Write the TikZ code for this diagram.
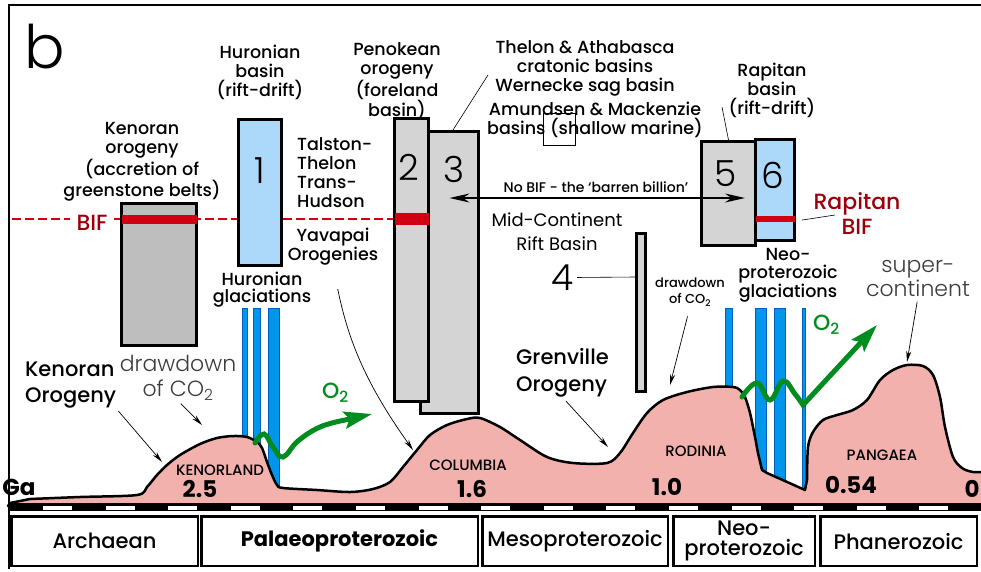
\documentclass[tikz,border=0pt]{standalone}
\usepackage{fontspec}
\setmainfont{Poppins}
\newfontfamily\lightfont{Poppins Light}
\newfontfamily\medfont{Poppins Medium}
\usetikzlibrary{positioning,arrows.meta}

\definecolor{landpink}{RGB}{242,177,172}
\definecolor{basinblue}{RGB}{172,216,250}
\definecolor{iceblue}{RGB}{0,150,235}
\definecolor{icedark}{RGB}{0,95,190}
\definecolor{kgrey}{RGB}{190,190,190}
\definecolor{colgrey}{RGB}{212,212,212}
\definecolor{bandred}{RGB}{208,0,18}
\definecolor{bifdark}{RGB}{155,0,12}
\definecolor{o2green}{RGB}{0,140,30}
\definecolor{softgrey}{RGB}{60,60,60}

\begin{document}
\begin{tikzpicture}
  [x=1pt, y=-1pt,
   lbl/.style={align=center, inner sep=0pt, font=\medfont\fontsize{17.5}{19}\selectfont},
   bigl/.style={align=left, inner sep=0pt, font=\medfont\fontsize{21}{26}\selectfont},
   thinlbl/.style={align=center, inner sep=0pt, text=softgrey, font=\lightfont\fontsize{22}{24}\selectfont},
   small/.style={align=center, inner sep=0pt, font=\medfont\fontsize{13}{16}\selectfont},
   num/.style={inner sep=0pt, font=\lightfont\fontsize{36}{36}\selectfont},
   colbox/.style={draw, line width=3pt, inner sep=0pt},
   biftext/.style={inner sep=0pt, text=bifdark, font=\medfont\fontsize{22}{25}\selectfont},
   cont/.style={inner sep=0pt, font=\medfont\fontsize{15}{15}\selectfont},
   age/.style={inner sep=0pt, font=\bfseries\fontsize{23}{23}\selectfont},
   era/.style={draw, line width=2.5pt, inner sep=0pt, align=center, minimum height=49.5pt,
     font=\medfont\fontsize{21}{20}\selectfont},
   bifline/.style={draw=bandred, line width=2pt, dash pattern=on 9pt off 4pt},
   icebar/.style={fill=iceblue, draw=icedark, line width=0.6pt},
   land/.style={fill=landpink, draw=black, line width=2.5pt, line join=round},
   o2arrow/.style={draw=o2green, line width=5pt, line cap=round,
     -{Stealth[length=28pt,width=17pt,inset=5pt]}},
   o2lbl/.style={inner sep=0pt, text=o2green, font=\medfont\fontsize{22}{22}\selectfont},
   leader/.style={line width=0.6pt},
   ptr/.style={line width=0.7pt, -{Stealth[length=11pt,width=5pt]}},
   barren/.style={line width=2pt, {Stealth[length=20pt,width=9pt]}-{Stealth[length=20pt,width=9pt]}}]

  \fill[white] (0,0) rectangle (981,571);
  \useasboundingbox (0,0) rectangle (981,571);
  \draw[line width=2.5pt] (9,569) -- (9,5) -- (981,5);
  \node[anchor=base, inner sep=0pt, font=\lightfont\fontsize{60}{60}\selectfont] (panel) at (45,68) {b};

  % BIF level
  \coordinate (bifstart) at (12,219);
  \coordinate (bifend) at (395,219);
  \node[biftext, anchor=base, inner xsep=6pt] (biflbl) at (92,230) {BIF};
  \draw[bifline] (bifstart) -- (biflbl.west |- bifstart);
  \draw[bifline] (biflbl.east |- bifstart) -- (bifend);

  % basins
  \node[colbox, fill=kgrey, minimum width=75pt, minimum height=142pt] (kbox) at (159,274.5) {};
  \fill[bandred] ([xshift=1.5pt]kbox.west |- 0,215) rectangle ([xshift=-1.5pt]kbox.east |- 0,224);
  \node[colbox, fill=basinblue, minimum width=43pt, minimum height=146pt] (col1) at (260,192.5) {};
  \node[colbox, fill=colgrey, minimum width=58pt, minimum height=282pt] (col3) at (449.5,272.5) {};
  \node[colbox, fill=colgrey, minimum width=34pt, minimum height=283pt] (col2) at (411.5,260) {};
  \fill[bandred] ([xshift=1.5pt]col2.west |- 0,213) rectangle ([xshift=-1.5pt]col2.east |- 0,225);
  \node[colbox, fill=colgrey, minimum width=9pt, minimum height=158pt] (col4) at (641,312.5) {};
  \node[colbox, fill=colgrey, minimum width=54pt, minimum height=104pt] (col5) at (728.5,193.5) {};
  \node[colbox, fill=basinblue, minimum width=39pt, minimum height=101pt] (col6) at (775,190) {};
  \fill[bandred] ([xshift=1.5pt]col6.west |- 0,216) rectangle ([xshift=-1.5pt]col6.east |- 0,222);

  \node[num, below=39pt of col1.north] (n1) {1};
  \node[num, below=37pt of col2.north, xshift=-3pt] (n2) {2};
  \node[num, below=26pt of col3.north, xshift=5pt] (n3) {3};
  \node[num, below=20pt of col5.north, xshift=-3pt] (n5) {5};
  \node[num, below=24pt of col6.north, xshift=-2pt] (n6) {6};
  \node[num] (four) at (563,277.5) {4};

  % glaciations
  \foreach \xa/\xb in {242/247,253/260,268/279,725/732,755/766,774/785,802/805}
    \draw[icebar] (\xa,308) rectangle (\xb,500);

  % continents through time
  \draw[land] (8,506) -- (10,503) -- plot[smooth, tension=0.5] coordinates {(30,499) (80,497)
    (137,495) (147,487) (157,475) (167,465) (180,455) (200,444) (217,438) (233,436) (247,437)
    (257,442) (262,448) (267,462) (272,475) (277,485) (283,488) (317,490) (350,492) (373,489)
    (390,482) (403,467) (417,450) (430,435) (447,425) (467,419) (480,418) (500,427) (520,440)
    (547,457) (573,463) (607,463) (620,453) (633,433) (647,413) (663,400) (687,392) (713,387)
    (733,387) (740,390) (745,397) (750,413) (755,437) (758,453) (762,470)}
    -- (767,473) -- (805,490) -- plot[smooth, tension=0.5] coordinates {(807,480) (808,447)
    (813,432) (823,420) (837,415) (853,410) (867,400) (880,380) (893,370) (907,365) (923,366)
    (933,375) (940,397) (945,427) (953,457) (962,468) (973,472) (986,472)}
    -- (986,506) -- cycle;

  % time bar
  \fill (10,503) rectangle (981,511);
  \foreach \i in {0,...,14}
    \fill[white] ({43+62.6*\i},506) rectangle ++(29,3.5);

  \node[era, minimum width=186.5pt] (archaean) at (104.5,541) {Archaean};
  \node[era, minimum width=276.5pt, right=1pt of archaean, font=\bfseries\fontsize{21}{20}\selectfont] (palaeo) {Palaeoproterozoic};
  \node[era, minimum width=185.5pt, right=2pt of palaeo] (meso) {Mesoproterozoic};
  \node[era, minimum width=141.5pt, right=3pt of meso] (neo) {Neo-\\proterozoic};
  \node[era, minimum width=156.5pt, right=3pt of neo] (phan) {Phanerozoic};

  % labels
  \node[lbl, anchor=north] (kenlbl) at (142,122) {Kenoran\\orogeny\\(accretion of\\greenstone belts)};
  \node[lbl, anchor=north] (hurbasin) at (260,45) {Huronian\\basin\\(rift-drift)};
  \node[lbl, anchor=north] (penokean) at (397,42) {Penokean\\orogeny\\(foreland\\basin)};
  \node[lbl, anchor=north] (thelon) at (585,40) {Thelon \& Athabasca\\cratonic basins\\Wernecke sag basin};
  \node[lbl, anchor=north] (amund) at (595,102) {Amundsen \& Mackenzie\\basins (shallow marine)};
  \draw[leader] (543,113) rectangle (575,145);
  \node[lbl, anchor=north] (rapbasin) at (772,63) {Rapitan\\basin\\(rift-drift)};
  \node[lbl, align=left, anchor=north west] (talston) at (297,137) {Talston-\\Thelon\\Trans-\\Hudson};
  \node[lbl, anchor=north] (yav) at (333,228) {Yavapai\\Orogenies};
  \node[lbl, anchor=north, font=\medfont\fontsize{17.5}{17}\selectfont] (hurglac) at (262,272) {Huronian\\glaciations};
  \node[lbl, anchor=north, font=\fontsize{18}{24}\selectfont] (midcont) at (557,213) {Mid-Continent\\Rift Basin};
  \node[lbl, anchor=north, font=\medfont\fontsize{17.5}{18}\selectfont] (neoglac) at (788,248) {Neo-\\proterozoic\\glaciations};
  \node[anchor=north, inner sep=0pt, font=\medfont\fontsize{14}{14}\selectfont] (nobif) at (596,182) {No BIF - the ‘barren billion’};
  \node[biftext, align=center, anchor=north] (rapbif) at (857,192) {Rapitan\\BIF};
  \node[bigl, anchor=north west] (kenoro) at (25,362) {Kenoran\\Orogeny};
  \node[bigl, anchor=north west, font=\medfont\fontsize{21}{27}\selectfont] (grenville) at (516,348) {Grenville\\Orogeny};
  \node[thinlbl, anchor=north, font=\lightfont\fontsize{22}{25}\selectfont] (ddleft) at (178,355) {drawdown\\of CO\textsubscript{2}};
  \node[thinlbl, anchor=north] (superc) at (918,260) {super-\\continent};
  \node[small, anchor=north] (ddright) at (690,278) {drawdown\\of CO\textsubscript{2}};

  \node[cont, anchor=base] (kenorland) at (220,475) {KENORLAND};
  \node[cont, anchor=base] (columbia) at (468,470) {COLUMBIA};
  \node[cont, anchor=base] (rodinia) at (696,456) {RODINIA};
  \node[cont, anchor=base] (pangaea) at (882,460) {PANGAEA};
  \node[age, anchor=base] (ga) at (19,495) {Ga};
  \node[age, anchor=base] (a25) at (200,497) {2.5};
  \node[age, anchor=base] (a16) at (472,497) {1.6};
  \node[age, anchor=base] (a10) at (667,495) {1.0};
  \node[age, anchor=base] (a054) at (851,493) {0.54};
  \node[age, anchor=base] (a0) at (972,497) {0};

  % oxygen rises
  \draw[o2arrow] plot[smooth, tension=0.7] coordinates {(255,443) (264,434) (273,447) (283,457)
    (298,441) (320,427) (345,420)} -- (372,414);
  \draw[o2arrow] plot[smooth, tension=0.7] coordinates {(742,397) (757,383) (770,400) (783,381)
    (795,394) (803,405)} -- (877,325);
  \node[o2lbl, anchor=base west] (o2a) at (322,398) {O\textsubscript{2}};
  \node[o2lbl, anchor=base west] (o2b) at (813,330) {O\textsubscript{2}};

  % connectors
  \coordinate (kenhill) at (162,462);
  \coordinate (ddlefttip) at (202,425);
  \coordinate (colhill) at (413,450);
  \coordinate (grentip) at (608,447);
  \coordinate (ddrighttip) at (670,385);
  \coordinate (suptip) at (907,362);
  \coordinate (thelonend) at (488,75);
  \coordinate (amundend) at (722,107);
  \coordinate (rapbifend) at (835,215);
  \draw[ptr, shorten <=3pt] (kenoro.south east) -- (kenhill);
  \draw[ptr, shorten <=4pt] (ddleft.south) -- (ddlefttip);
  \draw[ptr, shorten <=24pt] (yav.south) to[bend right=12] (colhill);
  \draw[ptr, shorten <=5pt] (grenville.south) -- (grentip);
  \draw[ptr, shorten <=10pt] (ddright.south) -- (ddrighttip);
  \draw[ptr, shorten <=5pt] (superc.south) -- (suptip);
  \draw[leader] ([xshift=3.5pt]col3.north) -- (thelonend);
  \draw[leader] (col5.north) -- (amundend);
  \draw[leader, shorten <=3pt] (four.east) -- (col4.west |- 0,277);
  \draw[leader, shorten <=6pt] (col6.east |- 0,221) -- (rapbifend);
  \draw[barren, shorten >=12pt] (col3 |- 0,198) -- (col5.east |- 0,198);

\end{tikzpicture}
\end{document}
